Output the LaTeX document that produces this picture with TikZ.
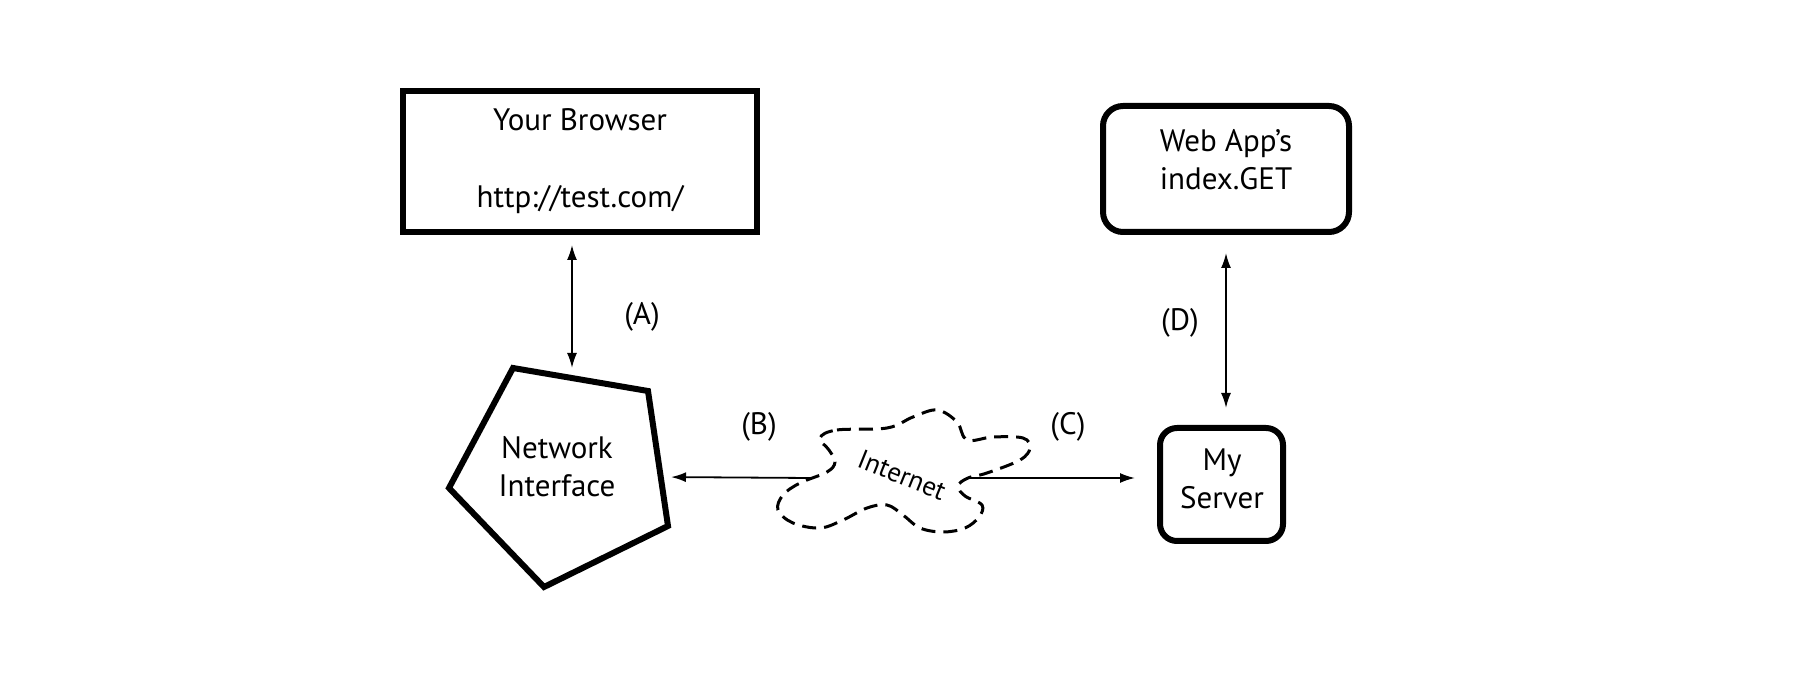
\documentclass[tikz,border=0pt]{standalone}
\usepackage{fontspec}
\setmainfont{PT Sans}
\usetikzlibrary{arrows.meta,calc}
\begin{document}
\begin{tikzpicture}[x=0.5pt,y=-0.5pt,
  every node/.style={font=\fontsize{15.5}{19}\selectfont, align=center, inner sep=0pt},
  sqbox/.style={draw, line width=3pt},
  rbox/.style={draw, line width=3pt},
  conn/.style={line width=0.9pt, -{Latex[length=7.5pt,width=5pt]}},
  biconn/.style={line width=0.9pt, {Latex[length=7.5pt,width=5pt]}-{Latex[length=7.5pt,width=5pt]}},
  cloudline/.style={line width=1.5pt, dash pattern=on 7pt off 4pt},
  lbl/.style={font=\fontsize{15.5}{19}\selectfont}
]
\useasboundingbox (0,0) rectangle (1815,688);

% Your Browser
\node[sqbox, minimum width=177pt, minimum height=70.5pt] (browser) at (580,161.5)
  {Your Browser\\[19.5pt]http://test.com/};

% Web App box
\node[rbox, rounded corners=10pt, minimum width=123pt, minimum height=63pt] (webapp) at (1226,169) {};
\node (webapptext) at (1226,160) {Web App’s\\index.GET};

% My Server box
\node[rbox, rounded corners=8.5pt, minimum width=61.5pt, minimum height=56.5pt] (server) at (1221.5,484.5) {};
\node (servertext) at (1222,479) {My\\Server};

% Network Interface pentagon
\draw[line width=3pt, line join=miter] (513,368) -- (648,391) -- (668,526) -- (544,587) -- (449,488) -- cycle;
\node (netif) at (557,467) {Network\\Interface};
\coordinate (netTop) at (572,378);
\coordinate (netRight) at (661,477);

% Internet cloud
\draw[cloudline] plot[smooth cycle, tension=0.6] coordinates {
 (820,438) (837,430) (887,428) (913,417) (937,410) (957,422) (967,440)
 (993,437) (1023,438) (1030,448) (1020,460) (987,473) (968,478) (958,486)
 (965,496) (982,505) (979,517) (965,528) (943,532) (920,528) (903,515)
 (887,505) (867,508) (843,520) (820,528) (793,523) (778,510) (783,495)
 (800,483) (827,472) (835,462) (829,450)};
\node[rotate=-22, font=\fontsize{13.5}{16}\selectfont] (inet) at (902,475) {Internet};
\coordinate (cloudL) at (810,478);
\coordinate (cloudR) at (970,478);

% connectors
\draw[biconn, shorten <=5pt, shorten >=5pt] ($(browser.south)+(-8,0)$) -- (netTop);
\draw[conn, shorten >=5pt] (cloudL) -- (netRight);
\draw[conn, shorten >=11pt] (cloudR) -- (cloudR -| server.west);
\draw[biconn, shorten <=9pt, shorten >=8.5pt] (webapp.south) -- (webapp.south |- server.north);

% labels
\node[lbl] (labA) at (642,317) {(A)};
\node[lbl] (labB) at (759,427) {(B)};
\node[lbl] (labC) at (1068,427) {(C)};
\node[lbl] (labD) at (1180,323) {(D)};
\end{tikzpicture}
\end{document}
